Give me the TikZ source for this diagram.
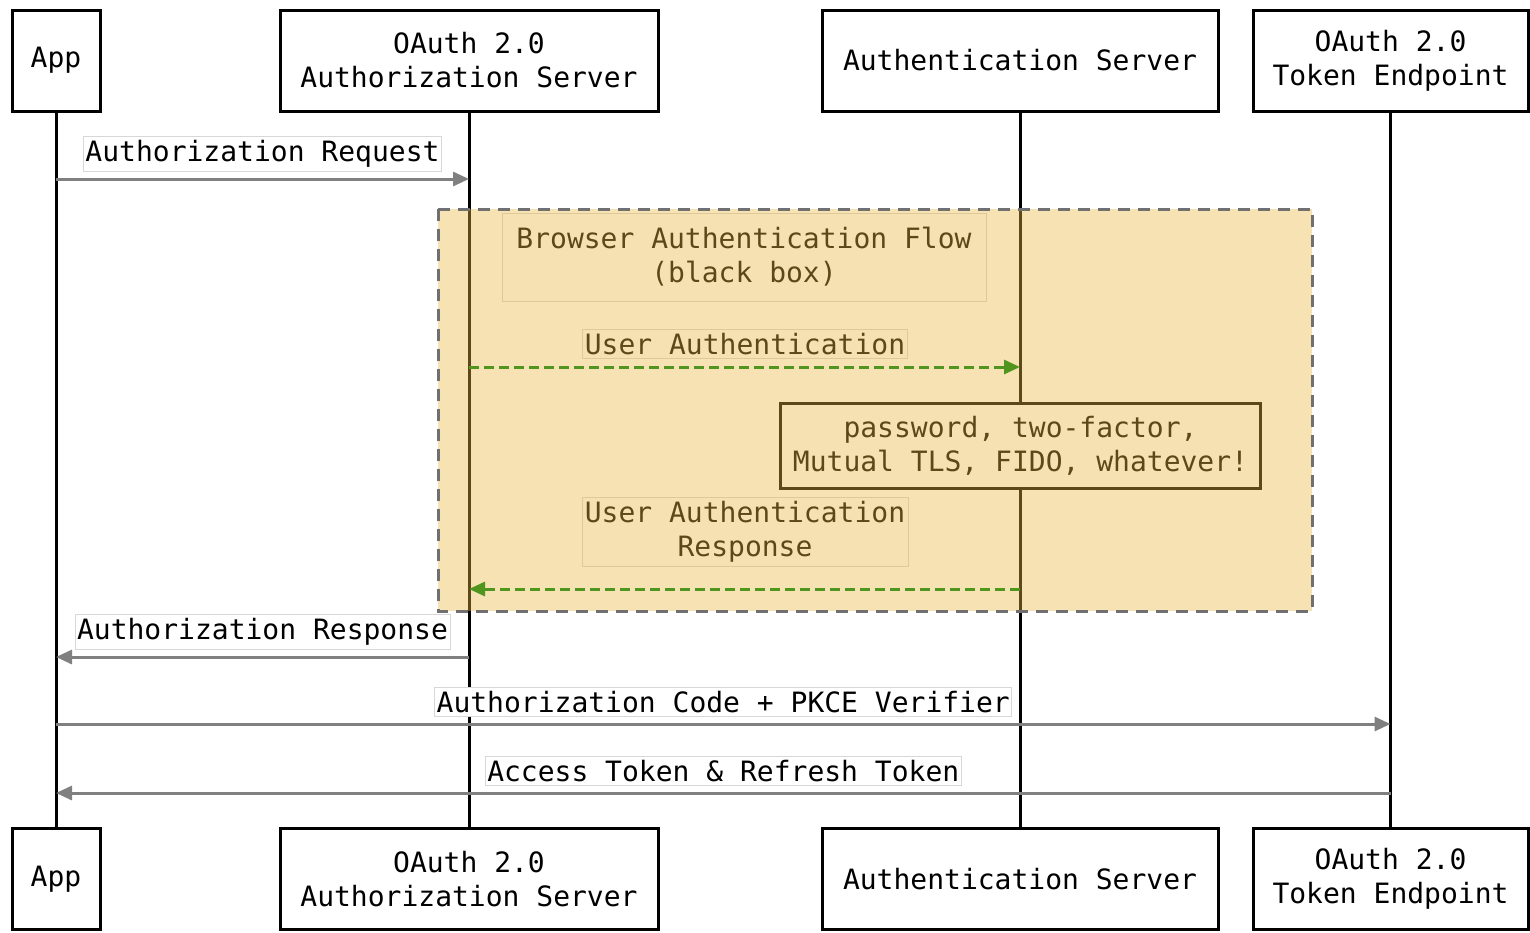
\documentclass[tikz,border=0pt]{standalone}
\usepackage{fontspec}
\setmainfont{DejaVu Sans Mono}
\usetikzlibrary{arrows.meta}
\definecolor{msggray}{RGB}{128,128,128}
\definecolor{lblgray}{RGB}{215,215,215}
\definecolor{flowgreen}{RGB}{80,150,30}
\definecolor{flowtint}{RGB}{232,182,62}
\definecolor{dashgray}{RGB}{112,112,112}
\begin{document}
\begin{tikzpicture}[x=0.5pt,y=-0.5pt,
    font=\fontsize{14}{17}\selectfont,
    actor/.style={draw,line width=1.5pt,fill=white,align=center,minimum height=50.5pt,inner sep=0pt},
    life/.style={line width=1.5pt},
    msg/.style={draw=msggray,line width=1.5pt,-{Triangle[length=8pt,width=7pt]}},
    flow/.style={draw=flowgreen,line width=1.5pt,dash pattern=on 5pt off 2.5pt,-{Triangle[length=8pt,width=7pt]}},
    lbl/.style={draw=lblgray,line width=0.4pt,fill=white,align=center,inner xsep=1pt,inner ysep=2pt},
    note/.style={draw,line width=1.5pt,fill=white,align=center,minimum width=240pt,minimum height=42.5pt,inner sep=0pt}]
      \useasboundingbox (0,0) rectangle (1530,932);
      \node[actor,minimum width=44pt] (appT) at (56,60.5) {App};
      \node[actor,minimum width=189pt] (asT) at (469,60.5) {OAuth 2.0\\Authorization Server};
      \node[actor,minimum width=198pt] (authT) at (1020,60.5) {Authentication Server};
      \node[actor,minimum width=137.5pt] (tokT) at (1390.5,60.5) {OAuth 2.0\\Token Endpoint};
      \node[actor,minimum width=44pt] (appB) at (56,879) {App};
      \node[actor,minimum width=189pt] (asB) at (469,879) {OAuth 2.0\\Authorization Server};
      \node[actor,minimum width=198pt] (authB) at (1020,879) {Authentication Server};
      \node[actor,minimum width=137.5pt] (tokB) at (1390.5,879) {OAuth 2.0\\Token Endpoint};
      \draw[life] (appT) -- (appB);
      \draw[life] (asT) -- (asB);
      \draw[life] (authT) -- (authB);
      \draw[life] (tokT) -- (tokB);

      \coordinate (r1) at (0,179);
      \coordinate (r2) at (0,367);
      \coordinate (r3) at (0,589);
      \coordinate (r4) at (0,657);
      \coordinate (r5) at (0,724);
      \coordinate (r6) at (0,793);

      \draw[msg] (appT |- r1) -- node[lbl,above=3.5pt] {Authorization Request} (asT |- r1);
      \node[lbl,minimum width=242pt,minimum height=44pt] (flowlbl) at (744,257) {Browser Authentication Flow\\(black box)};
      \node[lbl] (ualbl) at (745,344) {User Authentication};
      \node[note] (pwd) at (1020.5,445.5) {password, two-factor,\\Mutual TLS, FIDO, whatever!};
      \node[lbl,minimum width=163pt,minimum height=33.5pt] (uarlbl) at (745,531.5) {User Authentication\\Response};

      \fill[flowtint,fill opacity=0.4] (438,209) rectangle (1312,611);
      \draw[flow] (asT |- r2) -- (authT |- r2);
      \draw[flow] (authT |- r3) -- (asT |- r3);
      \draw[dashgray,line width=1.5pt,dash pattern=on 6pt off 4pt] (438,209) rectangle (1312,611);

      \draw[msg] (asT |- r4) -- node[lbl,above=3.5pt] {Authorization Response} (appT |- r4);
      \draw[msg] (appT |- r5) -- node[lbl,above=3.5pt] {Authorization Code + PKCE Verifier} (tokT |- r5);
      \draw[msg] (tokT |- r6) -- node[lbl,above=3.5pt] {Access Token \& Refresh Token} (appT |- r6);

      \end{tikzpicture}
\end{document}
